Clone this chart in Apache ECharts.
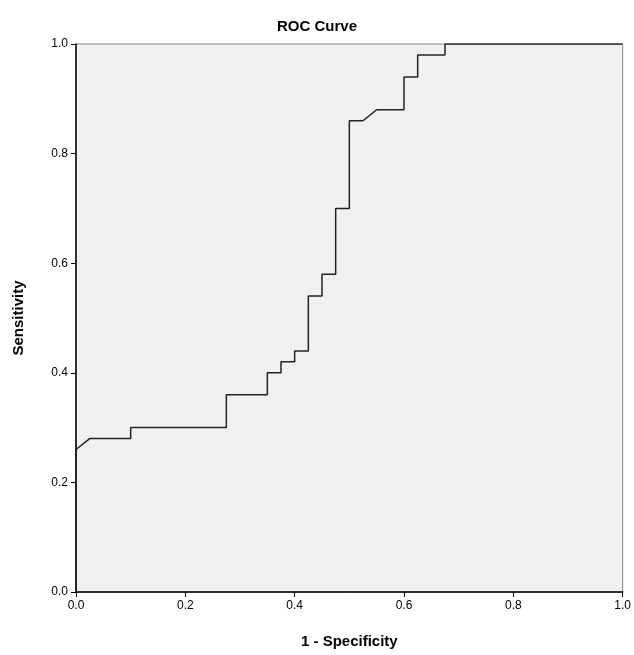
<!DOCTYPE html>
<html>
<head>
    <meta charset="utf-8">
    <title>ROC Curve</title>
    <script src="https://cdn.jsdelivr.net/npm/echarts@6/dist/echarts.min.js"></script>
    <style>
        html, body { margin: 0; padding: 0; background: #fff; }
        #main { width: 634px; height: 655px; }
    </style>
</head>
<body>
    <div id="main"></div>
    <script>
        // ROC points
        const fpr = [0, 0, 0.025, 0.1, 0.1, 0.275, 0.275, 0.35, 0.35, 0.375, 0.375, 0.4, 0.4, 0.425, 0.425,
                     0.45, 0.45, 0.475, 0.475, 0.5, 0.5, 0.525, 0.55, 0.6, 0.6, 0.625, 0.625, 0.675, 0.675, 1];
        const tpr = [0, 0.26, 0.28, 0.28, 0.30, 0.30, 0.36, 0.36, 0.40, 0.40, 0.42, 0.42, 0.44, 0.44, 0.54,
                     0.54, 0.58, 0.58, 0.70, 0.70, 0.86, 0.86, 0.88, 0.88, 0.94, 0.94, 0.98, 0.98, 1, 1];

        const myChart = echarts.init(document.getElementById('main'));
        const axisCommon = {
            type: 'value', min: 0, max: 1, interval: 0.2,
            nameLocation: 'middle',
            nameTextStyle: { fontFamily: 'Liberation Sans', fontWeight: 'bold', fontSize: 15, color: '#000' },
            axisLine: { show: true, lineStyle: { color: '#000', width: 1.5 } },
            axisTick: { show: true, length: 5, lineStyle: { color: '#000' } },
            axisLabel: { fontFamily: 'Liberation Sans', fontSize: 12, color: '#000', formatter: v => v.toFixed(1) },
            splitLine: { show: false }
        };

        myChart.setOption({
            animation: false,
            title: {
                text: 'ROC Curve', left: 'center', top: 14,
                textStyle: { fontFamily: 'Liberation Sans', fontWeight: 'bold', fontSize: 15, color: '#000' }
            },
            grid: {
                left: 76, right: 11, top: 44, bottom: 63,
                show: true, backgroundColor: '#f0f0f0', borderColor: '#888', borderWidth: 1
            },
            xAxis: Object.assign({}, axisCommon, { name: '1 - Specificity', nameGap: 42 }),
            yAxis: Object.assign({}, axisCommon, { name: 'Sensitivity', nameGap: 50 }),
            series: [{
                type: 'line',
                data: fpr.map((x, i) => [x, tpr[i]]),
                symbol: 'none',
                lineStyle: { color: '#222', width: 1.5 }
            }]
        });
    </script>
</body>
</html>
